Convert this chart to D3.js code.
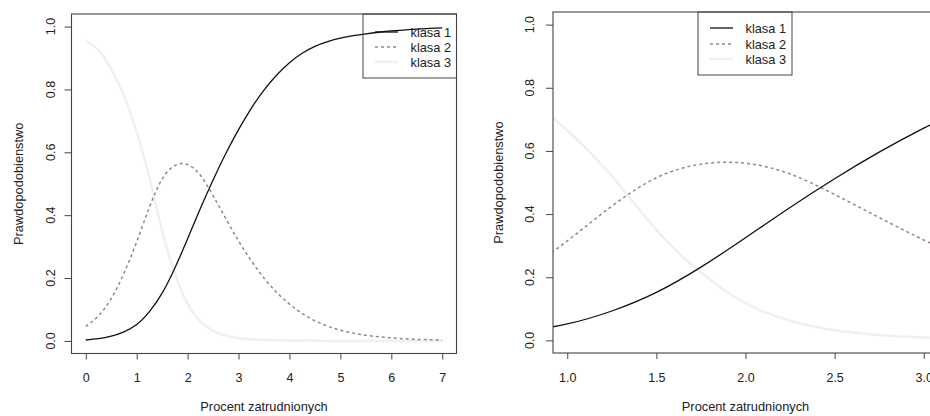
<!DOCTYPE html>
<html><head><meta charset="utf-8">
<script src="https://cdn.jsdelivr.net/npm/d3@7"></script>
<style>
html,body{margin:0;padding:0;background:#fff;}
svg{display:block;}
text{font-family:"Liberation Sans",Arial,sans-serif;fill:#222;}
</style></head>
<body>
<svg id="chart" width="930" height="416"></svg>
<script>
// ---- data ----
const xValues = [0,0.25,0.5,0.75,1,1.25,1.5,1.75,2,2.25,2.5,2.75,3,3.25,3.5,3.75,4,4.25,4.5,4.75,5,5.25,5.5,5.75,6,6.25,6.5,6.75,7];
const klasa1 = [0.003,0.007,0.015,0.029,0.052,0.093,0.152,0.232,0.325,0.421,0.512,0.596,0.672,0.740,0.798,0.846,0.885,0.915,0.937,0.952,0.963,0.971,0.977,0.982,0.986,0.989,0.992,0.994,0.996];
const klasa2 = [0.046,0.080,0.135,0.215,0.315,0.425,0.515,0.558,0.561,0.527,0.462,0.389,0.318,0.255,0.200,0.154,0.117,0.087,0.064,0.047,0.034,0.025,0.018,0.013,0.010,0.007,0.005,0.004,0.003];
const klasa3 = [0.955,0.925,0.865,0.780,0.665,0.520,0.350,0.215,0.118,0.062,0.032,0.017,0.009,0.005,0.003,0.002,0.001,0.001,0.001,0,0,0,0,0,0,0,0,0,0];
const seriesNames = ["klasa 1","klasa 2","klasa 3"];
const xTicksLeft = [0,1,2,3,4,5,6,7];
const xTicksRight = [1.0,1.5,2.0,2.5,3.0];
const yTicks = [0.0,0.2,0.4,0.6,0.8,1.0];
const xTitle = "Procent zatrudnionych";
const yTitle = "Prawdopodobienstwo";

// ---- styles ----
const styles = [
  {color:"#111", width:1.3, dash:null},
  {color:"#988587", width:1.5, dash:"3,3"},
  {color:"#f0f0f0", width:2.5, dash:null}
];
const seriesData = [klasa1, klasa2, klasa3];

const svg = d3.select("#chart");

const panels = [
  {id:"L", x0:71.5, x1:456.5, y0:14, y1:353.5, xDomain:[-0.28,7.28], xTicks:xTicksLeft, fmt:d3.format("d"),
   legend:{x0:363, x1:456.5, y0:14, y1:78, rows:[32,47,62]}, yLabX:54.5, yTitleX:23},
  {id:"R", x0:553, x1:938, y0:12, y1:353, xDomain:[0.92,3.08], xTicks:xTicksRight, fmt:d3.format(".1f"),
   legend:{x0:698, x1:792, y0:12, y1:75, rows:[28,44,59]}, yLabX:533.5, yTitleX:502.5}
];

panels.forEach(p => {
  const x = d3.scaleLinear().domain(p.xDomain).range([p.x0,p.x1]);
  const y = d3.scaleLinear().domain([-0.04,1.04]).range([p.y1,p.y0]);
  const g = svg.append("g");

  g.append("clipPath").attr("id","clip"+p.id).append("rect")
    .attr("x",p.x0).attr("y",p.y0).attr("width",p.x1-p.x0).attr("height",p.y1-p.y0);

  const plot = g.append("g").attr("clip-path","url(#clip"+p.id+")");
  const line = d3.line().x(d=>x(d[0])).y(d=>y(d[1])).curve(d3.curveNatural);
  [2,1,0].forEach(i => {
    const pts = xValues.map((xv,k)=>[xv, seriesData[i][k]]);
    plot.append("path").datum(pts).attr("d",line)
      .attr("fill","none").attr("stroke",styles[i].color)
      .attr("stroke-width",styles[i].width)
      .attr("stroke-dasharray",styles[i].dash);
  });

  // x axis
  const xa = g.append("g").attr("transform",`translate(0,${p.y1})`)
    .call(d3.axisBottom(x).tickValues(p.xTicks).tickFormat(p.fmt).tickSize(6).tickPadding(14));
  xa.select(".domain").remove();
  xa.selectAll("line").attr("stroke","#444");
  xa.selectAll("text").attr("font-size","12.5px").attr("fill","#222")
    .style("font-family","'Liberation Sans',Arial,sans-serif");

  // y axis
  const ya = g.append("g").attr("transform",`translate(${p.x0},0)`)
    .call(d3.axisLeft(y).tickValues(yTicks).tickFormat(d3.format(".1f")).tickSize(7));
  ya.select(".domain").remove();
  ya.selectAll("line").attr("stroke","#444");
  ya.selectAll("text").remove();
  yTicks.forEach(t => {
    g.append("text").attr("transform",`translate(${p.yLabX},${y(t)}) rotate(-90)`)
      .attr("text-anchor","middle").attr("font-size","12.5px").text(d3.format(".1f")(t));
  });

  // box
  g.append("rect").attr("x",p.x0).attr("y",p.y0).attr("width",p.x1-p.x0).attr("height",p.y1-p.y0)
    .attr("fill","none").attr("stroke","#444").attr("stroke-width",1.1);

  // titles
  g.append("text").attr("x",(x(p.xTicks[0])+x(p.xTicks[p.xTicks.length-1]))/2).attr("y",411)
    .attr("text-anchor","middle").attr("font-size","12.8px").text(xTitle);
  g.append("text").attr("transform",`translate(${p.yTitleX},${(p.y0+p.y1)/2}) rotate(-90)`)
    .attr("text-anchor","middle").attr("font-size","12.8px").text(yTitle);

  // legend
  const L = p.legend;
  g.append("rect").attr("x",L.x0).attr("y",L.y0).attr("width",L.x1-L.x0).attr("height",L.y1-L.y0)
    .attr("fill","none").attr("stroke","#444").attr("stroke-width",1);
  seriesNames.forEach((name,i) => {
    g.append("line").attr("x1",L.x0+12).attr("x2",L.x0+35).attr("y1",L.rows[i]).attr("y2",L.rows[i])
      .attr("stroke",styles[i].color).attr("stroke-width",styles[i].width)
      .attr("stroke-dasharray",styles[i].dash);
    g.append("text").attr("x",L.x0+47.5).attr("y",L.rows[i]+4.5).attr("font-size","12.8px").text(name);
  });
});
</script>
</body></html>
